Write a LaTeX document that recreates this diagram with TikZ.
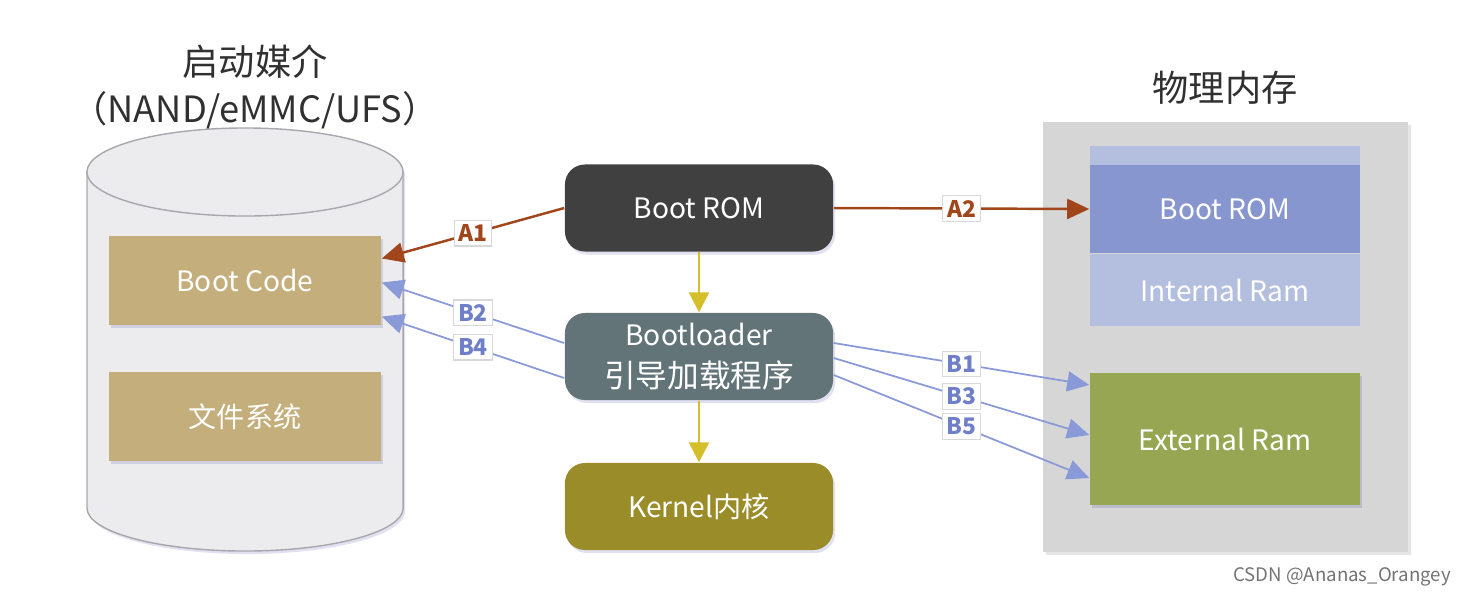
\documentclass[tikz,border=0pt]{standalone}
\usepackage{fontspec}
\setmainfont{Noto Sans CJK SC}
\usetikzlibrary{arrows.meta,shadows}
\definecolor{cylfill}{HTML}{ECECEE}
\definecolor{cylline}{HTML}{A8A8AC}
\definecolor{tan}{HTML}{C4AE7B}
\definecolor{romdark}{HTML}{404040}
\definecolor{bldr}{HTML}{627478}
\definecolor{kern}{HTML}{9B8C2A}
\definecolor{memgray}{HTML}{D6D6D6}
\definecolor{lightblue}{HTML}{B4BFE0}
\definecolor{midblue}{HTML}{8896D0}
\definecolor{eramgreen}{HTML}{97A652}
\definecolor{brown}{HTML}{A0461A}
\definecolor{bluearr}{HTML}{8A9AD8}
\definecolor{bluetext}{HTML}{7080C8}
\definecolor{yel}{HTML}{D4BE2A}
\definecolor{lblborder}{HTML}{D8D8D8}
\definecolor{titlec}{HTML}{303030}
\begin{document}
\begin{tikzpicture}[x=0.01cm,y=-0.01cm,
  shd/.style={drop shadow={shadow xshift=0.02cm,shadow yshift=-0.03cm,opacity=0.12,fill=black!50!blue}},
  sqbox/.style={minimum width=2.72cm,minimum height=0.89cm,inner sep=0pt,text=white,
    font=\fontsize{8}{10}\selectfont},
  rbox/.style={sqbox,rounded corners=0.2cm,minimum width=2.68cm,minimum height=0.87cm,shd},
  membox/.style={minimum width=2.70cm,inner sep=0pt,text=white,font=\fontsize{8}{10}\selectfont},
  lbl/.style={fill=white,draw=lblborder,line width=0.3pt,inner sep=1.2pt,
    font=\fontsize{6.5}{7}\selectfont\bfseries},
  title/.style={text=titlec,font=\fontsize{10.3}{12}\selectfont},
  brownarr/.style={draw=brown,line width=0.7pt,-{Triangle[length=0.22cm,width=0.2cm]}},
  bluearrow/.style={draw=bluearr,line width=0.5pt,-{Triangle[length=0.22cm,width=0.2cm]}},
  yelarr/.style={draw=yel,line width=0.7pt,-{Triangle[length=0.2cm,width=0.2cm]}}
]
\useasboundingbox (0,0) rectangle (1466,596);
% cylinder
\fill[cylfill,shd] (87,172) -- (87,508) arc[start angle=180,end angle=360,x radius=1.58cm,y radius=0.43cm]
  -- (403,172) arc[start angle=0,end angle=180,x radius=1.58cm,y radius=0.44cm] -- cycle;
\draw[cylline,line width=0.4pt] (87,172) -- (87,508) arc[start angle=180,end angle=360,x radius=1.58cm,y radius=0.43cm] -- (403,172);
\draw[cylline,line width=0.4pt] (245,172) ellipse [x radius=1.58cm,y radius=0.44cm];
% titles
\node[title] (t1) at (255,62) {启动媒介};
\node[title] (t2) at (255,110) {（NAND/eMMC/UFS）};
\node[title] (t3) at (1225,88) {物理内存};
% left boxes
\node[sqbox,fill=tan,shd] (bootcode) at (245,280.5) {Boot Code};
\node[sqbox,fill=tan,shd] (fs) at (245,416.5) {文件系统};
% middle
\node[rbox,fill=romdark] (bootrom) at (699,208) {Boot ROM};
\node[rbox,fill=bldr,align=center,font=\fontsize{8}{12}\selectfont] (bootloader) at (699,356.5)
  {Bootloader\\{\fontsize{9}{12}\selectfont 引导加载程序}};
\node[rbox,fill=kern] (kernel) at (699,506.5) {Kernel内核};
% memory
\node[fill=memgray,minimum width=3.65cm,minimum height=4.30cm,inner sep=0pt,
  drop shadow={shadow xshift=0.03cm,shadow yshift=-0.03cm,opacity=0.1,fill=black}] (mem) at (1225.5,337) {};
\node[membox,fill=lightblue,minimum height=0.19cm] (strip) at (1225,155.5) {};
\node[membox,fill=midblue,minimum height=0.88cm] (rom2) at (1225,209) {Boot ROM};
\node[membox,fill=lightblue,minimum height=0.72cm] (iram) at (1225,290) {Internal Ram};
\node[membox,fill=eramgreen,minimum height=1.32cm,shd] (eram) at (1225,439) {External Ram};
% arrows
\draw[yelarr] (bootrom.south) -- (bootloader.north);
\draw[yelarr] (bootloader.south) -- (kernel.north);
\draw[brownarr] (bootrom.west) -- node[lbl,text=brown] (la1) {A1} ([yshift=0.22cm]bootcode.east);
\draw[brownarr] (bootrom.east) -- node[lbl,text=brown] (la2) {A2} (rom2.west);
\draw[bluearrow] ([yshift=0.135cm]bootloader.west) -- node[lbl,text=bluetext] (lb2) {B2} ([yshift=-0.02cm]bootcode.east);
\draw[bluearrow] ([yshift=-0.215cm]bootloader.west) -- node[lbl,text=bluetext] (lb4) {B4} ([yshift=-0.36cm]bootcode.east);
\draw[bluearrow] ([yshift=0.135cm]bootloader.east) -- node[lbl,text=bluetext] (lb1) {B1} ([yshift=0.54cm]eram.west);
\draw[bluearrow] ([yshift=-0.015cm]bootloader.east) -- node[lbl,text=bluetext] (lb3) {B3} ([yshift=0.04cm]eram.west);
\draw[bluearrow] ([yshift=-0.185cm]bootloader.east) -- node[lbl,text=bluetext] (lb5) {B5} ([yshift=-0.39cm]eram.west);
% watermark
\node[text=black!55,font=\fontsize{5.3}{6}\selectfont] (wm) at (1342,577) {CSDN @Ananas\_Orangey};
\end{tikzpicture}
\end{document}
